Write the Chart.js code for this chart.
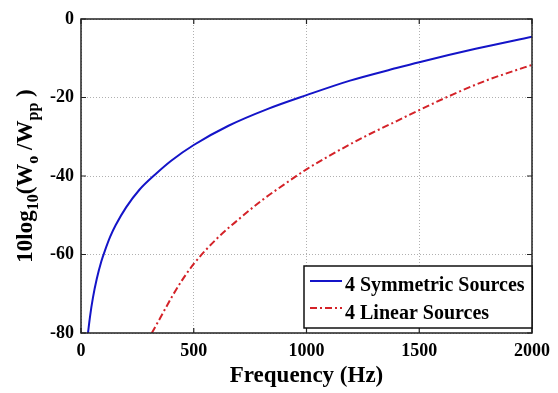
<!DOCTYPE html>
<html>
<head>
<meta charset="utf-8">
<script src="https://cdn.jsdelivr.net/npm/chart.js@4"></script>
<style>
  html, body { margin: 0; padding: 0; background: #fff; }
  canvas { display: block; }
</style>
</head>
<body>
<canvas id="chart" width="558" height="393"></canvas>
<script>
// values
var freqSymmetric = [31, 40, 53, 70, 90, 105, 130, 154, 200, 259, 329, 400, 500, 654, 829, 1000, 1193, 1399, 1500, 1750, 2000];
var levelSymmetric = [-80, -75.8, -71, -66.2, -61.8, -59.2, -55.4, -52.5, -48, -43.5, -39.6, -36.1, -32.1, -27.2, -22.9, -19.4, -15.7, -12.5, -11.0, -7.6, -4.5];
var freqLinear = [314, 350, 405, 450, 500, 600, 700, 800, 900, 1000, 1100, 1250, 1400, 1500, 1650, 1800, 1900, 2000];
var levelLinear = [-80, -76.3, -70.6, -66.4, -62.4, -56.1, -51, -46.3, -42.2, -38.3, -34.9, -30.2, -26.0, -23.2, -19.2, -15.6, -13.6, -11.7];
var seriesNames = ["4 Symmetric Sources", "4 Linear Sources"];
var xTicks = [0, 500, 1000, 1500, 2000];
var yTicks = [-80, -60, -40, -20, 0];

var FONT = "'Liberation Serif', 'Times New Roman', serif";
var BLUE = "#1414c8";
var RED = "#d42228";
var RED_DASH = [7, 3, 2, 3];

function toPoints(xs, ys) {
  return xs.map(function (x, i) { return { x: x, y: ys[i] }; });
}

// axes box, inward ticks, legend and the sub-scripted y title
var matlabLook = {
  id: "matlabLook",
  afterDraw: function (chart) {
    var ctx = chart.ctx;
    var a = chart.chartArea;
    var sx = chart.scales.x, sy = chart.scales.y;

    ctx.save();
    ctx.strokeStyle = "#222";
    ctx.lineWidth = 1.5;
    ctx.strokeRect(a.left, a.top, a.right - a.left, a.bottom - a.top);

    ctx.lineWidth = 1.2;
    ctx.beginPath();
    xTicks.forEach(function (v) {
      var px = sx.getPixelForValue(v);
      ctx.moveTo(px, a.bottom); ctx.lineTo(px, a.bottom - 5);
      ctx.moveTo(px, a.top); ctx.lineTo(px, a.top + 5);
    });
    yTicks.forEach(function (v) {
      var py = sy.getPixelForValue(v);
      ctx.moveTo(a.left, py); ctx.lineTo(a.left + 5, py);
      ctx.moveTo(a.right, py); ctx.lineTo(a.right - 5, py);
    });
    ctx.stroke();

    // legend
    var lx = 304, ly = 266, lw = 228, lh = 62;
    ctx.fillStyle = "#fff";
    ctx.fillRect(lx, ly, lw, lh);
    ctx.strokeStyle = "#111";
    ctx.lineWidth = 1.5;
    ctx.strokeRect(lx, ly, lw, lh);

    ctx.lineWidth = 2;
    ctx.strokeStyle = BLUE;
    ctx.beginPath(); ctx.moveTo(310, 281); ctx.lineTo(342, 281); ctx.stroke();
    ctx.strokeStyle = RED;
    ctx.setLineDash(RED_DASH);
    ctx.beginPath(); ctx.moveTo(310, 308); ctx.lineTo(342, 308); ctx.stroke();
    ctx.setLineDash([]);

    ctx.fillStyle = "#000";
    ctx.font = "bold 20px " + FONT;
    ctx.textBaseline = "middle";
    ctx.textAlign = "left";
    ctx.fillText(seriesNames[0], 345, 286);
    ctx.fillText(seriesNames[1], 345, 314);

    // y title: 10log10(Wo/Wpp)
    var parts = [
      ["10log", 23, 0], ["10", 16, 6], ["(W", 23, 0], ["o", 16, 6],
      [" /W", 23, 0], ["pp", 16, 6], [" )", 23, 0]
    ];
    var total = 0;
    parts.forEach(function (p) {
      ctx.font = "bold " + p[1] + "px " + FONT;
      p.push(ctx.measureText(p[0]).width);
      total += p[3];
    });
    ctx.translate(32, (a.top + a.bottom) / 2);
    ctx.rotate(-Math.PI / 2);
    ctx.textBaseline = "alphabetic";
    var cx = -total / 2;
    parts.forEach(function (p) {
      ctx.font = "bold " + p[1] + "px " + FONT;
      ctx.fillText(p[0], cx, p[2]);
      cx += p[3];
    });
    ctx.restore();
  }
};

var ctx = document.getElementById("chart");
var myChart = new Chart(ctx, {
  type: "line",
  data: {
    datasets: [
      {
        label: seriesNames[0],
        data: toPoints(freqSymmetric, levelSymmetric),
        borderColor: BLUE,
        borderWidth: 2,
        pointRadius: 0,
        cubicInterpolationMode: "monotone",
        fill: false
      },
      {
        label: seriesNames[1],
        data: toPoints(freqLinear, levelLinear),
        borderColor: RED,
        borderWidth: 2,
        borderDash: RED_DASH,
        pointRadius: 0,
        cubicInterpolationMode: "monotone",
        fill: false
      }
    ]
  },
  options: {
    responsive: false,
    animation: false,
    devicePixelRatio: 1,
    layout: { padding: { top: 19, right: 21, left: 0, bottom: 0 } },
    plugins: {
      legend: { display: false },
      tooltip: { enabled: false }
    },
    scales: {
      x: {
        type: "linear",
        min: 0,
        max: 2000,
        afterBuildTicks: function (s) { s.ticks = xTicks.map(function (v) { return { value: v }; }); },
        afterFit: function (s) { s.height = 60; },
        ticks: {
          color: "#000",
          padding: 8,
          maxRotation: 0,
          callback: function (v) { return String(v); },
          font: { family: FONT, size: 18, weight: "bold" }
        },
        grid: { color: "#b0b0b0", lineWidth: 1, drawTicks: false },
        border: { display: false, dash: [1, 2] },
        title: {
          display: true,
          text: "Frequency (Hz)",
          color: "#000",
          padding: { top: 0, bottom: 3 },
          font: { family: FONT, size: 23, weight: "bold" }
        }
      },
      y: {
        min: -80,
        max: 0,
        afterBuildTicks: function (s) { s.ticks = yTicks.map(function (v) { return { value: v }; }); },
        afterFit: function (s) { s.width = 81; },
        ticks: {
          color: "#000",
          padding: 7,
          callback: function (v) { return String(v); },
          font: { family: FONT, size: 18, weight: "bold" }
        },
        grid: { color: "#b0b0b0", lineWidth: 1, drawTicks: false },
        border: { display: false, dash: [1, 2] }
      }
    }
  },
  plugins: [matlabLook]
});
</script>
</body>
</html>
